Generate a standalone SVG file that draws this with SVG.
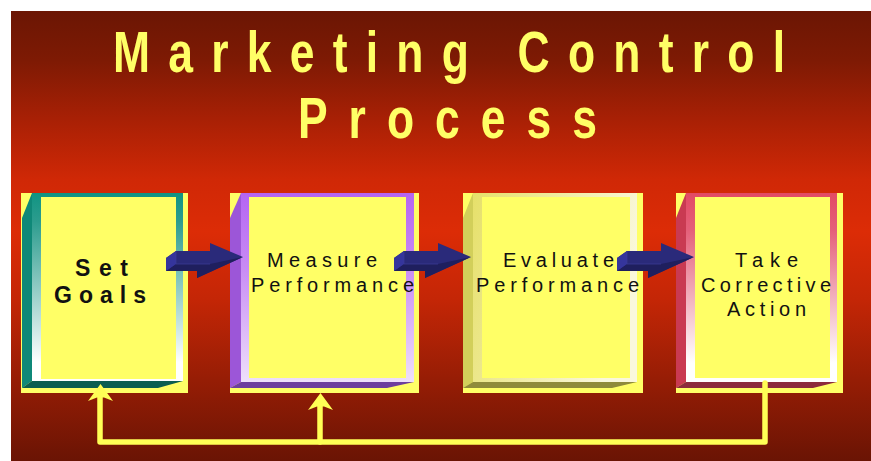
<svg xmlns="http://www.w3.org/2000/svg" xmlns:xlink="http://www.w3.org/1999/xlink" width="871" height="461" viewBox="0 0 871 461">
<style>
.title{font-family:"Liberation Sans",Arial,sans-serif;font-weight:bold;font-size:57px;fill:#ffff66}
.lbl{font-family:"Liberation Sans",Arial,sans-serif;font-size:20px;fill:#111}
.lblb{font-family:"Liberation Sans",Arial,sans-serif;font-size:23px;font-weight:bold;fill:#111}
.yel{fill:#ffff66}
.fb{fill:none;stroke:#ffff55;stroke-width:5.5;stroke-linejoin:round;stroke-linecap:round}
.fbh{fill:#ffff55}
</style>
<defs>
<linearGradient id="bg" x1="0" y1="11" x2="0" y2="461" gradientUnits="userSpaceOnUse">
<stop offset="0" stop-color="#6b1604"/>
<stop offset="0.11" stop-color="#7e1a04"/>
<stop offset="0.24" stop-color="#a82005"/>
<stop offset="0.375" stop-color="#d02806"/>
<stop offset="0.49" stop-color="#dc2c06"/>
<stop offset="0.64" stop-color="#c42606"/>
<stop offset="0.82" stop-color="#961d05"/>
<stop offset="1" stop-color="#6a1404"/>
</linearGradient>
<linearGradient id="g1" x1="0" y1="0" x2="0" y2="1">
<stop offset="0" stop-color="#109482"/>
<stop offset="0.15" stop-color="#2c9c8e"/>
<stop offset="0.9" stop-color="#ffffff"/>
</linearGradient>
<linearGradient id="g2" x1="0" y1="0" x2="0" y2="1">
<stop offset="0" stop-color="#b465f2"/>
<stop offset="0.4" stop-color="#c88cf4"/>
<stop offset="1" stop-color="#eee0fb"/>
</linearGradient>
<linearGradient id="g3" x1="0" y1="0" x2="1" y2="0.3">
<stop offset="0" stop-color="#e6e06a"/>
<stop offset="1" stop-color="#faf8dc"/>
</linearGradient>
<linearGradient id="g4" x1="0" y1="0" x2="0" y2="1">
<stop offset="0" stop-color="#e24a64"/>
<stop offset="0.2" stop-color="#e4607a"/>
<stop offset="0.9" stop-color="#ffffff"/>
</linearGradient>
<g id="arrow">
<polygon points="166,258 176,251 210,251 210,243 243,257 197,278 197,271 166,271" fill="#2a2a7a"/>
<polygon points="166,271 176,264 210,264 243,257 197,278 197,271" fill="#1f1f5e"/>
<polygon points="166,258 176,251 176,264 166,271" fill="#35359c"/>
<polyline points="176,251 176,264 210,264" fill="none" stroke="#3a3a96" stroke-width="0.8"/>
</g>
<polygon id="fbhead" points="100.5,384 113,401 104,397.5 97,397.5 88,401"/>
</defs>

<rect x="11" y="11" width="860" height="450" fill="url(#bg)"/>

<g id="title" transform="scale(0.78,1)">
<text class="title" x="144.9" y="72" textLength="861.5" lengthAdjust="spacing">Marketing Control</text>
<text class="title" x="382" y="138" textLength="383.3" lengthAdjust="spacing">Process</text>
</g>

<g id="node-set-goals">
<rect class="yel" x="21" y="193" width="167" height="200"/>
<polygon points="22,218 32,193 32,381 22,388" fill="#0f8878"/>
<rect x="32" y="193" width="151" height="188" fill="url(#g1)"/>
<rect class="yel" x="41" y="197" width="135" height="182"/>
<polygon points="22,388 32,381 183,381 158,388" fill="#0b5e50"/>
<text class="lblb" x="75" y="276" textLength="53" lengthAdjust="spacing">Set</text>
<text class="lblb" x="54" y="303" textLength="92" lengthAdjust="spacing">Goals</text>
</g>

<g id="node-measure">
<rect class="yel" x="230" y="193" width="189" height="200"/>
<polygon points="230,218 241,193 241,382 230,388" fill="#9c56d8"/>
<rect x="241" y="193" width="173" height="189" fill="url(#g2)"/>
<rect class="yel" x="249" y="197" width="157" height="181"/>
<polygon points="230,388 241,382 414,382 387,388" fill="#6d3d9e"/>
<text class="lbl" x="267" y="267" textLength="110" lengthAdjust="spacing">Measure</text>
<text class="lbl" x="251" y="292" textLength="163" lengthAdjust="spacing">Performance</text>
</g>

<g id="node-evaluate">
<rect class="yel" x="463" y="193" width="180" height="200"/>
<polygon points="463,218 473,193 473,382 463,388" fill="#d2cf5a"/>
<rect x="473" y="193" width="164" height="189" fill="url(#g3)"/>
<rect class="yel" x="482" y="197" width="148" height="181"/>
<polygon points="463,388 473,382 637,382 612,388" fill="#8f8b3a"/>
<text class="lbl" x="503" y="267" textLength="111" lengthAdjust="spacing">Evaluate</text>
<text class="lbl" x="476" y="292" textLength="163" lengthAdjust="spacing">Performance</text>
</g>

<g id="node-corrective">
<rect class="yel" x="676" y="193" width="167" height="200"/>
<polygon points="676,218 686,193 686,382 676,388" fill="#c93a52"/>
<rect x="686" y="193" width="151" height="189" fill="url(#g4)"/>
<rect class="yel" x="695" y="197" width="135" height="181"/>
<polygon points="676,388 686,382 837,382 813,388" fill="#8c2a3c"/>
<text class="lbl" x="735" y="267" textLength="63" lengthAdjust="spacing">Take</text>
<text class="lbl" x="701" y="292" textLength="130" lengthAdjust="spacing">Corrective</text>
<text class="lbl" x="727" y="316" textLength="79" lengthAdjust="spacing">Action</text>
</g>

<g id="connectors">
<use xlink:href="#arrow"/>
<use xlink:href="#arrow" transform="translate(228,0)"/>
<use xlink:href="#arrow" transform="translate(451,0)"/>
<polyline class="fb" points="765,383 765,442 100,442 100,396"/>
<line class="fb" x1="320" y1="442" x2="320" y2="405"/>
<use xlink:href="#fbhead" class="fbh"/>
<use xlink:href="#fbhead" class="fbh" transform="translate(220,9)"/>
</g>
</svg>
